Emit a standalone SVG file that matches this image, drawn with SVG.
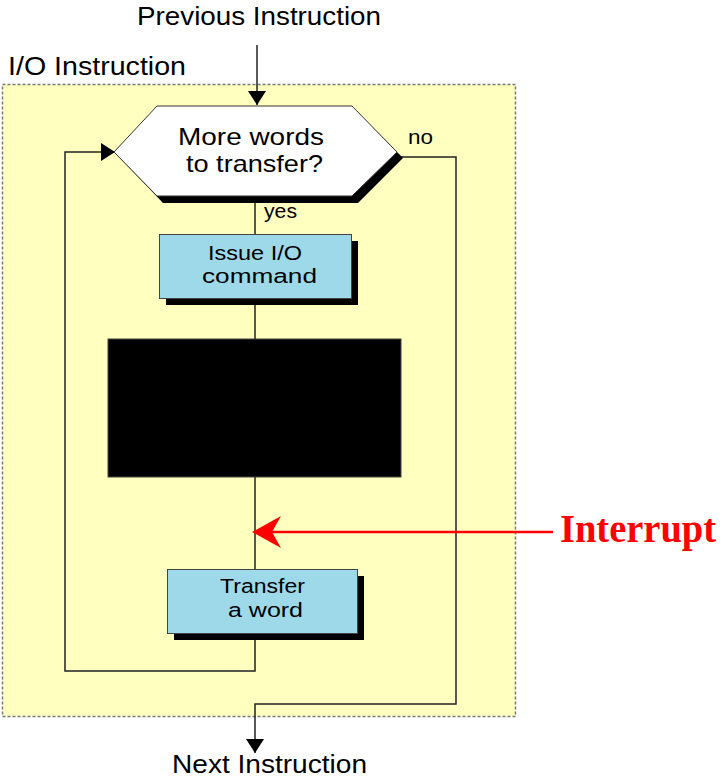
<svg xmlns="http://www.w3.org/2000/svg" width="721" height="784" viewBox="0 0 721 784">
<style>
.t{font-family:"Liberation Sans","Noto Sans",Arial,sans-serif;fill:#000;}
.ln{fill:none;stroke:#222;stroke-width:1.5;}
.box{fill:#9ed9ea;stroke:#444;stroke-width:1;}
.sh{fill:#000;}
</style>
<defs>
<marker id="ah" viewBox="0 0 14 18" refX="14" refY="9" markerWidth="14" markerHeight="18" markerUnits="userSpaceOnUse" orient="auto">
<path d="M0,0 L14,9 L0,18 Z" fill="#000"/>
</marker>
</defs>
<rect width="721" height="784" fill="#fff"/>
<rect x="2.5" y="84.5" width="513" height="632" fill="#ffffc0" stroke="#777" stroke-width="1.5" stroke-dasharray="3,2"/>
<text class="t" x="8" y="75" font-size="25" textLength="178" lengthAdjust="spacingAndGlyphs">I/O Instruction</text>
<text class="t" x="137" y="25" font-size="25" textLength="244" lengthAdjust="spacingAndGlyphs">Previous Instruction</text>
<text class="t" x="172" y="773" font-size="25" textLength="195" lengthAdjust="spacingAndGlyphs">Next Instruction</text>
<g id="connectors">
<line class="ln" x1="257" y1="45" x2="257" y2="105" marker-end="url(#ah)"/>
<polyline class="ln" points="398,157 456,157 456,704 255,704 255,753" marker-end="url(#ah)"/>
<line class="ln" x1="255" y1="203" x2="255" y2="234"/>
<line class="ln" x1="255" y1="304" x2="255" y2="339"/>
<line class="ln" x1="255" y1="477" x2="255" y2="569"/>
<polyline class="ln" points="255,640 255,671 65,671 65,152 115,152" marker-end="url(#ah)"/>
<line x1="553" y1="532" x2="262" y2="532" stroke="#f00" stroke-width="2.5"/>
<path d="M252,532 L281,516 L272,532 L281,548 Z" fill="#f00"/>
<text class="t" x="408" y="144" font-size="20" textLength="25" lengthAdjust="spacingAndGlyphs">no</text>
<text class="t" x="264" y="218" font-size="20" textLength="33" lengthAdjust="spacingAndGlyphs">yes</text>
</g>
<g id="decision">
<polygon class="sh" points="163,113 358,113 403,158 358,203 163,203 120,158"/>
<polygon points="157,106 352,106 397,152 352,196 157,196 114,152" fill="#fff" stroke="#333" stroke-width="1"/>
<text class="t" x="178" y="145" font-size="24" textLength="146" lengthAdjust="spacingAndGlyphs">More words</text>
<text class="t" x="186" y="172" font-size="24" textLength="137" lengthAdjust="spacingAndGlyphs">to transfer?</text>
</g>
<g id="issue">
<rect class="sh" x="166" y="241" width="192" height="64"/>
<rect class="box" x="159.5" y="234.5" width="192" height="64"/>
<text class="t" x="208" y="260" font-size="20.5" textLength="94" lengthAdjust="spacingAndGlyphs">Issue I/O</text>
<text class="t" x="202" y="283" font-size="20.5" textLength="115" lengthAdjust="spacingAndGlyphs">command</text>
</g>
<g id="hidden">
<rect x="108" y="339" width="293" height="138" fill="#000" stroke="#444" stroke-width="1"/>
</g>
<g id="transfer">
<rect class="sh" x="174" y="576" width="190" height="64"/>
<rect class="box" x="167.5" y="569.5" width="190" height="64"/>
<text class="t" x="220" y="593" font-size="20.5" textLength="85" lengthAdjust="spacingAndGlyphs">Transfer</text>
<text class="t" x="228" y="617" font-size="20.5" textLength="75" lengthAdjust="spacingAndGlyphs">a word</text>
</g>
<g id="interrupt">
<text x="560" y="542" font-family="'Liberation Serif','Times New Roman',serif" font-weight="bold" font-size="40" fill="#f00" textLength="156" lengthAdjust="spacingAndGlyphs">Interrupt</text>
</g>
</svg>
